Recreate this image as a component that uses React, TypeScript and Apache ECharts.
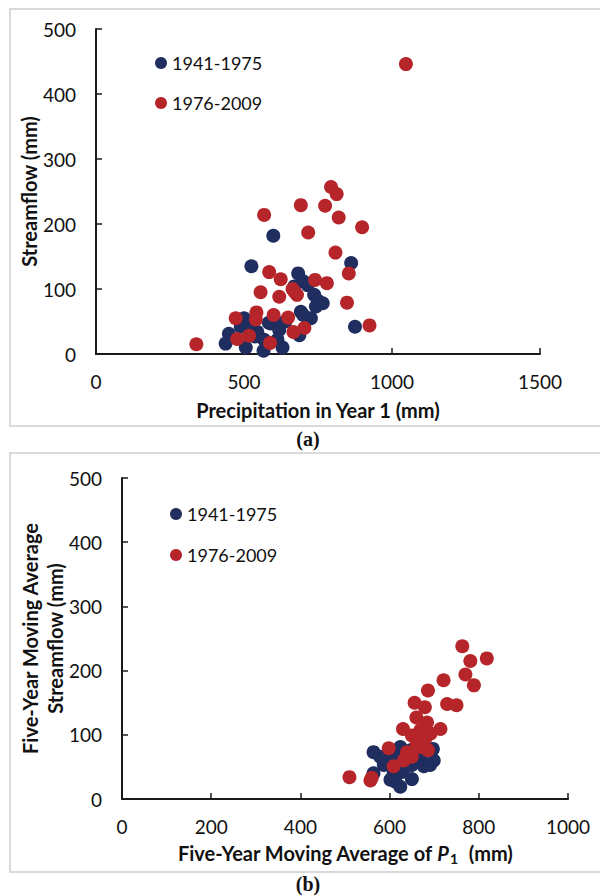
import React, { useEffect, useRef } from "react";
import * as echarts from "echarts";

// Panel (a): annual precipitation (mm) vs streamflow (mm)
const earlyA: number[][] = [
  [599, 182], [525, 135], [862, 140], [683, 124], [715, 106], [737, 91], [766, 78],
  [743, 73], [692, 65], [726, 55], [687, 29], [875, 42], [500, 55], [449, 31],
  [438, 16], [506, 10], [566, 5], [630, 10], [590, 47], [619, 37], [545, 34],
  [568, 22], [613, 22], [670, 104], [700, 112], [620, 45], [584, 48], [537, 27],
  [489, 42], [750, 82], [640, 50], [700, 60], [520, 45],
];
const lateA: number[][] = [
  [794, 257], [813, 246], [692, 229], [774, 228], [568, 214], [820, 210], [899, 195],
  [717, 187], [809, 156], [854, 124], [585, 126], [624, 115], [740, 114], [780, 109],
  [664, 100], [679, 91], [670, 96], [556, 95], [619, 88], [848, 79], [472, 55],
  [542, 64], [540, 53], [600, 60], [649, 56], [924, 44], [704, 40], [667, 34],
  [517, 28], [477, 23], [588, 17], [339, 15], [1047, 446],
];

// Panel (b): five-year moving averages
const earlyB: number[][] = [
  [564, 73], [602, 71], [695, 76], [699, 60], [677, 51], [650, 53], [564, 40],
  [587, 53], [609, 40], [628, 42], [650, 31], [613, 27], [624, 19], [594, 60],
  [628, 60], [669, 63], [647, 76], [624, 81], [579, 66], [691, 53], [635, 50],
  [602, 30], [665, 71], [613, 68], [697, 78], [585, 62], [650, 62],
];
const lateB: number[][] = [
  [763, 238], [781, 215], [818, 219], [770, 194], [789, 177], [721, 185], [686, 169],
  [729, 148], [750, 146], [656, 150], [679, 143], [660, 127], [684, 119], [714, 109],
  [630, 109], [669, 107], [650, 99], [680, 94], [661, 86], [598, 79], [686, 76],
  [639, 73], [650, 66], [632, 60], [609, 51], [510, 34], [557, 29], [669, 81],
  [692, 102], [560, 33],
];

const xTicksA = { min: 0, max: 1500, interval: 500 };
const yTicksA = { min: 0, max: 500, interval: 100 };
const xTicksB = { min: 0, max: 1000, interval: 200 };
const yTicksB = { min: 0, max: 500, interval: 100 };

const NAVY = "#1f2d5f";
const RED = "#b5252a";
const INK = "#111111";
const FONT = "Lato";

export default function App() {
  const ref = useRef<HTMLDivElement>(null);

  useEffect(() => {
    document.body.style.margin = "0";
    if (!ref.current) return;
    const chart = echarts.init(ref.current, undefined, { renderer: "svg" });

    const axisLine = { show: true, lineStyle: { color: "#1a1a1a", width: 2 } };
    const axisTick = { show: true, inside: true, length: 6, lineStyle: { color: "#1a1a1a", width: 1.5 } };
    const axisLabel = { color: INK, fontSize: 19, fontFamily: FONT, formatter: (v: number) => String(v) };
    const nameStyle = { color: INK, fontSize: 20, fontFamily: FONT, fontWeight: "bold" as const };

    const legendBase = {
      orient: "vertical" as const,
      icon: "circle",
      padding: 0,
      itemWidth: 12,
      itemHeight: 12,
      itemGap: 22,
      data: ["1941-1975", "1976-2009"],
      textStyle: { fontSize: 18, fontFamily: FONT, color: INK, lineHeight: 18 },
    };

    chart.setOption({
      animation: false,
      backgroundColor: "#ffffff",
      grid: [
        { left: 96, top: 29, width: 444, height: 325 },
        { left: 122, top: 478, width: 446, height: 321 },
      ],
      legend: [
        { ...legendBase, left: 155, top: 54 },
        { ...legendBase, left: 170, top: 505, itemGap: 23 },
      ],
      xAxis: [
        {
          type: "value", gridIndex: 0, ...xTicksA,
          axisLine, axisTick, splitLine: { show: false },
          axisLabel: { ...axisLabel, margin: 18 },
          name: "Precipitation in Year 1 (mm)",
          nameLocation: "middle", nameGap: 46, nameMoveOverlap: false, nameTextStyle: nameStyle,
        },
        {
          type: "value", gridIndex: 1, ...xTicksB,
          axisLine, axisTick, splitLine: { show: false },
          axisLabel: { ...axisLabel, margin: 18 },
          name: "Five-Year Moving Average of {i|P}{s|1}  (mm)",
          nameLocation: "middle", nameGap: 42, nameMoveOverlap: false,
          nameTextStyle: {
            ...nameStyle,
            rich: {
              i: { fontSize: 20, fontFamily: FONT, fontWeight: "bold", fontStyle: "italic", color: INK },
              s: { fontSize: 14, fontFamily: FONT, fontWeight: "bold", color: INK, verticalAlign: "bottom", padding: [10, 1, 0, 1] },
            },
          },
        },
      ],
      yAxis: [
        {
          type: "value", gridIndex: 0, ...yTicksA,
          axisLine, axisTick, splitLine: { show: false },
          axisLabel: { ...axisLabel, margin: 20 },
          name: "Streamflow (mm)",
          nameLocation: "middle", nameGap: 57, nameMoveOverlap: false, nameTextStyle: nameStyle,
        },
        {
          type: "value", gridIndex: 1, ...yTicksB,
          axisLine, axisTick, splitLine: { show: false },
          axisLabel: { ...axisLabel, margin: 20 },
          name: "Five-Year Moving Average\nStreamflow (mm)",
          nameLocation: "middle", nameGap: 55, nameMoveOverlap: false,
          nameTextStyle: { ...nameStyle, lineHeight: 25 },
        },
      ],
      series: [
        { name: "1941-1975", type: "scatter", xAxisIndex: 0, yAxisIndex: 0, data: earlyA, symbolSize: 14, itemStyle: { color: NAVY, opacity: 1 } },
        { name: "1976-2009", type: "scatter", xAxisIndex: 0, yAxisIndex: 0, data: lateA, symbolSize: 14, itemStyle: { color: RED, opacity: 1 } },
        { name: "1941-1975", type: "scatter", xAxisIndex: 1, yAxisIndex: 1, data: earlyB, symbolSize: 14, itemStyle: { color: NAVY, opacity: 1 } },
        { name: "1976-2009", type: "scatter", xAxisIndex: 1, yAxisIndex: 1, data: lateB, symbolSize: 14, itemStyle: { color: RED, opacity: 1 } },
      ],
      graphic: [
        { type: "rect", z: -1, silent: true, shape: { x: 10, y: 9, width: 620, height: 417 }, style: { fill: "none", stroke: "#d9d9d9", lineWidth: 2 } },
        { type: "rect", z: -1, silent: true, shape: { x: 10, y: 453, width: 620, height: 419 }, style: { fill: "none", stroke: "#d9d9d9", lineWidth: 2 } },
        { type: "text", x: 308, y: 439, style: { text: "(a)", fill: INK, font: "bold 20px 'Liberation Serif', serif", textAlign: "center", textVerticalAlign: "middle" } },
        { type: "text", x: 308, y: 884, style: { text: "(b)", fill: INK, font: "bold 20px 'Liberation Serif', serif", textAlign: "center", textVerticalAlign: "middle" } },
      ],
    });

    return () => chart.dispose();
  }, []);

  return <div ref={ref} style={{ width: 600, height: 896 }} />;
}
